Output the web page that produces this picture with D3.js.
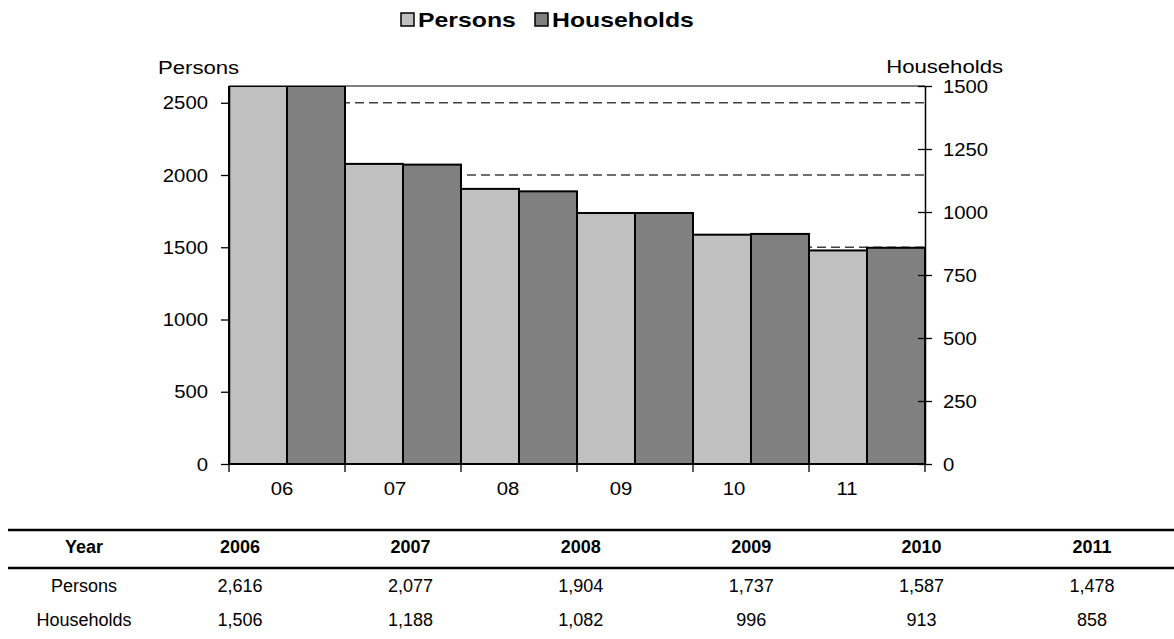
<!DOCTYPE html>
<html>
<head>
<meta charset="utf-8">
<script src="https://cdn.jsdelivr.net/npm/d3@7"></script>
<style>
body { margin: 0; background: #fff; }
svg text { font-family: "Liberation Sans", Arial, sans-serif; fill: #000; }
</style>
</head>
<body>
<div id="chart"></div>
<script>
// chart data
var years = ["2006", "2007", "2008", "2009", "2010", "2011"];
var yearLabels = ["06", "07", "08", "09", "10", "11"];
var seriesNames = ["Persons", "Households"];
var persons = [2616, 2077, 1904, 1737, 1587, 1478];
var households = [1506, 1188, 1082, 996, 913, 858];
var personTicks = [0, 500, 1000, 1500, 2000, 2500];
var householdTicks = [0, 250, 500, 750, 1000, 1250, 1500];

var width = 1174, height = 639;
var plot = {left: 229, right: 925, top: 86, bottom: 464};
var colors = {Persons: "#c0c0c0", Households: "#808080"};
// the source text is drawn a little wider than Arial
var tickStretch = 1.07, titleStretch = 1.23, legendStretch = 1.24;

var svg = d3.select("#chart").append("svg")
	.attr("width", width)
	.attr("height", height);

// places a text at x,y with horizontal stretch
function placeText(sel, px, py, sx) {
	return sel.attr("transform", "translate(" + px + "," + py + ") scale(" + sx + ",1)");
}

// scales
var x = d3.scaleBand().domain(years).range([plot.left, plot.right]);
var xSub = d3.scaleBand().domain(seriesNames).range([0, x.bandwidth()]);
var yLeft = d3.scaleLinear().domain([0, d3.max(persons)]).range([plot.bottom, plot.top]);
var yRight = d3.scaleLinear().domain([0, d3.max(householdTicks)]).range([plot.bottom, plot.top]);
var xLabel = d3.scalePoint().domain(yearLabels).range([plot.left + 53, plot.right - 78]);

svg.append("clipPath").attr("id", "plotClip")
	.append("rect")
	.attr("x", plot.left - 2).attr("y", plot.top)
	.attr("width", plot.right - plot.left + 4).attr("height", plot.bottom - plot.top + 2);

// dashed grid lines behind the bars
svg.append("g").selectAll("line")
	.data(personTicks.filter(function (d) { return d > 0; }))
	.enter().append("line")
	.attr("x1", plot.left).attr("x2", plot.right)
	.attr("y1", function (d) { return yLeft(d); })
	.attr("y2", function (d) { return yLeft(d); })
	.attr("stroke", "#404040")
	.attr("stroke-width", 1.4)
	.attr("stroke-dasharray", "9,5");

// top border of plot area
svg.append("line")
	.attr("x1", plot.left).attr("x2", plot.right)
	.attr("y1", plot.top).attr("y2", plot.top)
	.attr("stroke", "#000").attr("stroke-width", 1);

// bars
var rows = years.map(function (y, i) {
	return {year: y, Persons: persons[i], Households: households[i]};
});

var groups = svg.append("g").attr("clip-path", "url(#plotClip)")
	.selectAll("g").data(rows)
	.enter().append("g")
	.attr("transform", function (d) { return "translate(" + x(d.year) + ",0)"; });

groups.selectAll("rect")
	.data(function (d) {
		return seriesNames.map(function (s) { return {key: s, value: d[s]}; });
	})
	.enter().append("rect")
	.attr("x", function (d) { return xSub(d.key); })
	.attr("width", xSub.bandwidth())
	.attr("y", function (d) {
		var s = d.key === "Persons" ? yLeft : yRight;
		return Math.max(plot.top, s(d.value));
	})
	.attr("height", function (d) {
		var s = d.key === "Persons" ? yLeft : yRight;
		return plot.bottom - Math.max(plot.top, s(d.value));
	})
	.attr("fill", function (d) { return colors[d.key]; })
	.attr("stroke", "#000")
	.attr("stroke-width", 2);

// left axis
var leftAxis = svg.append("g")
	.attr("transform", "translate(" + plot.left + ",0)")
	.call(d3.axisLeft(yLeft).tickValues(personTicks).tickFormat(d3.format("d"))
		.tickSize(8).tickPadding(13).tickSizeOuter(0));

// right axis, ticks cross the line
var rightAxis = svg.append("g")
	.attr("transform", "translate(" + plot.right + ",0)")
	.call(d3.axisRight(yRight).tickValues(householdTicks).tickFormat(d3.format("d"))
		.tickSize(7).tickPadding(11).tickSizeOuter(0));
rightAxis.selectAll(".tick line").attr("x1", -7);

[leftAxis, rightAxis].forEach(function (a) {
	a.select(".domain").attr("stroke", "#000").attr("stroke-width", 1.5);
	a.selectAll(".tick line").attr("stroke", "#000").attr("stroke-width", 1.3);
	a.selectAll(".tick text")
		.style("font-size", "19px")
		.style("font-family", "Liberation Sans, Arial, sans-serif")
		.attr("x", function () { return +d3.select(this).attr("x") / tickStretch; })
		.attr("transform", "scale(" + tickStretch + ",1)");
});

// bottom axis: ticks at category boundaries
var bottomAxis = svg.append("g")
	.attr("transform", "translate(0," + plot.bottom + ")");
bottomAxis.append("line")
	.attr("x1", plot.left).attr("x2", plot.right)
	.attr("stroke", "#000").attr("stroke-width", 1.5);
bottomAxis.selectAll(".edge")
	.data(years.map(function (y) { return x(y); }).concat([plot.right]))
	.enter().append("line")
	.attr("class", "edge")
	.attr("x1", function (d) { return d; }).attr("x2", function (d) { return d; })
	.attr("y1", 0).attr("y2", 8)
	.attr("stroke", "#000").attr("stroke-width", 1.3);
bottomAxis.selectAll(".lbl")
	.data(yearLabels)
	.enter().append("text")
	.attr("class", "lbl")
	.attr("text-anchor", "middle")
	.style("font-size", "19px")
	.each(function (d) { placeText(d3.select(this), xLabel(d), 31, tickStretch); })
	.text(function (d) { return d; });

// axis titles
placeText(svg.append("text"), 158, 74, titleStretch)
	.style("font-size", "18px").text("Persons");
placeText(svg.append("text"), 1003, 73, titleStretch)
	.attr("text-anchor", "end")
	.style("font-size", "18px").text("Households");

// legend
var legend = svg.append("g").attr("transform", "translate(401,13)");
var legendPos = {Persons: 0, Households: 134};
seriesNames.forEach(function (s) {
	var g = legend.append("g").attr("transform", "translate(" + legendPos[s] + ",0)");
	g.append("rect").attr("width", 13).attr("height", 13)
		.attr("fill", colors[s]).attr("stroke", "#000").attr("stroke-width", 1.5);
	placeText(g.append("text"), 17, 14, legendStretch)
		.style("font-size", "20px").style("font-weight", "bold")
		.text(s);
});

// data table
var table = svg.append("g");
var colX = d3.scalePoint().domain(years).range([240, 1092]);
var firstColX = 84;
var tableRows = [
	{label: "Persons", values: persons},
	{label: "Households", values: households}
];
var fmt = d3.format(",");

table.append("line").attr("x1", 8).attr("x2", width).attr("y1", 530).attr("y2", 530)
	.attr("stroke", "#000").attr("stroke-width", 2.5);
table.append("line").attr("x1", 8).attr("x2", width).attr("y1", 568).attr("y2", 568)
	.attr("stroke", "#000").attr("stroke-width", 2.5);

table.append("text").attr("x", firstColX).attr("y", 553)
	.attr("text-anchor", "middle")
	.style("font-size", "18px").style("font-weight", "bold")
	.text("Year");
table.selectAll(".hdr").data(years).enter().append("text")
	.attr("class", "hdr")
	.attr("x", function (d) { return colX(d); })
	.attr("y", 553)
	.attr("text-anchor", "middle")
	.style("font-size", "18px").style("font-weight", "bold")
	.text(function (d) { return d; });

tableRows.forEach(function (r, ri) {
	var yPos = 592 + ri * 34;
	table.append("text").attr("x", firstColX).attr("y", yPos)
		.attr("text-anchor", "middle")
		.style("font-size", "18px")
		.text(r.label);
	table.selectAll(".cell" + ri).data(r.values).enter().append("text")
		.attr("class", "cell" + ri)
		.attr("x", function (d, i) { return colX(years[i]); })
		.attr("y", yPos)
		.attr("text-anchor", "middle")
		.style("font-size", "18px")
		.text(function (d) { return fmt(d); });
});
</script>
</body>
</html>
